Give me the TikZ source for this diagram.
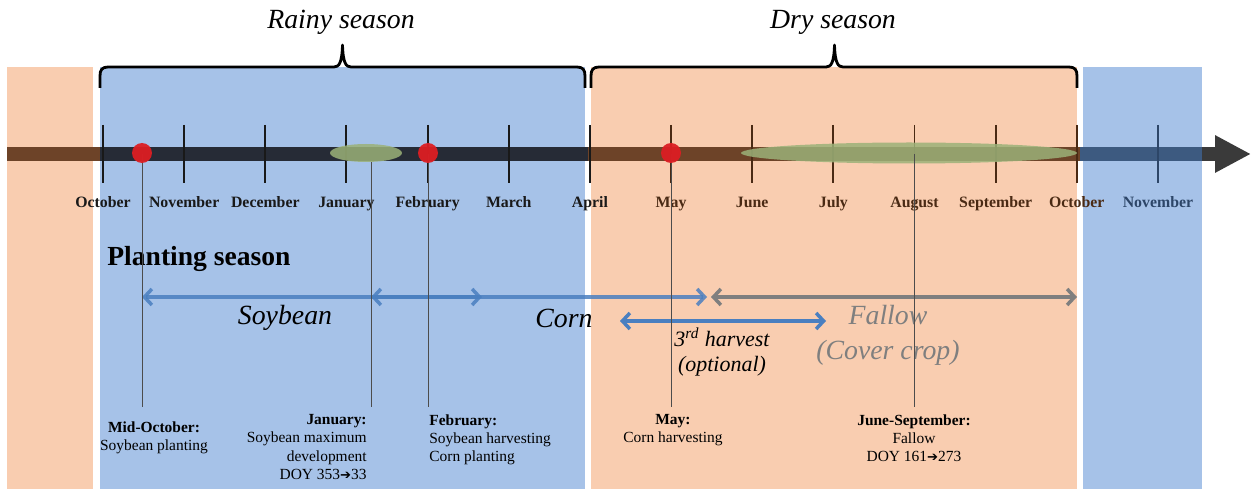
\documentclass[tikz,border=0pt]{standalone}
\usepackage{fontspec}
\setmainfont{Liberation Serif}
\newfontfamily\arrowfont{DejaVu Sans}
\usepackage{tikz}
\usetikzlibrary{arrows.meta, positioning, shapes.geometric}
\usepackage{xcolor}
\definecolor{rainblue}{HTML}{A6C2E8}
\definecolor{dryorange}{HTML}{F9CDB0}
\definecolor{barbrown}{HTML}{6D4328}
\definecolor{bardark}{HTML}{262B36}
\definecolor{barblue}{HTML}{3D5A80}
\definecolor{bargray}{HTML}{3A3A3A}
\definecolor{monthbrown}{HTML}{4A2A14}
\definecolor{monthblue}{HTML}{2D4668}
\definecolor{arrowblue}{HTML}{4A7FC0}
\definecolor{arrowgray}{HTML}{7F7F7F}
\definecolor{dotred}{HTML}{DC1E23}
\definecolor{peakgreen}{HTML}{9BB178}

\begin{document}
\begin{tikzpicture}[>={Straight Barb[length=0.15cm, width=0.32cm]}, x=0.02cm, y=-0.02cm]
    % Define styles for labels, bar, marks and arrows
    \tikzstyle{seasonlbl} = [font=\fontsize{15.8}{19}\selectfont\itshape, inner sep=0]
    \tikzstyle{seasonbrace} = [draw=black, line width=1.6pt, line join=round]
    \tikzstyle{timebar} = [line width=0.28cm]
    \tikzstyle{tickmark} = [line width=1.1pt]
    \tikzstyle{monthlbl} = [font=\fontsize{9}{11}\selectfont\bfseries, inner sep=0, anchor=base]
    \tikzstyle{reddot} = [circle, fill=dotred, fill opacity=0.95, minimum size=0.4cm, inner sep=0]
    \tikzstyle{greenpeak} = [ellipse, fill=peakgreen, fill opacity=0.85, inner sep=0]
    \tikzstyle{guide} = [draw=black!70, line width=0.55pt]
    \tikzstyle{croparrow} = [<->, line width=2pt]
    \tikzstyle{croplbl} = [font=\fontsize{15.8}{19.9}\selectfont\itshape, inner sep=0, align=center]
    \tikzstyle{harvlbl} = [font=\fontsize{12.5}{14.2}\selectfont\itshape, inner sep=0, align=center]
    \tikzstyle{notebox} = [font=\fontsize{8.8}{10.5}\selectfont, inner sep=0, align=center]

    \useasboundingbox (0,0) rectangle (1252,489);

    % Season backgrounds
    \fill[dryorange] (7,67) rectangle (93,489);
    \fill[rainblue] (100,67) rectangle (585,489);
    \fill[dryorange] (591,67) rectangle (1077,489);
    \fill[rainblue] (1083,67) rectangle (1202,489);

    % Season braces and titles
    \draw[seasonbrace] (100,88) -- (100,76) .. controls (100,70) and (102,67) .. (108,67) -- (334,67)
        .. controls (339,67) and (342,63) .. (342.5,45) .. controls (343,63) and (346,67) .. (351,67)
        -- (577,67) .. controls (583,67) and (585,70) .. (585,76) -- (585,88);
    \draw[seasonbrace] (591,88) -- (591,76) .. controls (591,70) and (593,67) .. (599,67) -- (826,67)
        .. controls (831,67) and (834,63) .. (834.5,45) .. controls (835,63) and (838,67) .. (843,67)
        -- (1069,67) .. controls (1075,67) and (1077,70) .. (1077,76) -- (1077,88);
    \node[seasonlbl] (rainyLbl) at (341,22) {Rainy season};
    \node[seasonlbl] (dryLbl) at (833,22) {Dry season};

    % Time bar
    \coordinate (barstart) at (7,154);
    \coordinate (rainstart) at (100,154);
    \coordinate (drystart) at (588,154);
    \coordinate (nextrain) at (1080,154);
    \coordinate (barend) at (1202,154);
    \coordinate (bartip) at (1251,154);
    \draw[timebar, draw=barbrown] (barstart) -- (rainstart);
    \draw[timebar, draw=bardark] (rainstart) -- (drystart);
    \draw[timebar, draw=barbrown] (drystart) -- (nextrain);
    \draw[timebar, draw=barblue] (nextrain) -- (barend);
    \draw[timebar, draw=bargray, -{Triangle[length=0.72cm, width=0.7cm]}] (barend) -- (bartip);

    % Month ticks and names
    \foreach \m [count=\i from 0] in {October,November,December,January,February,March,April,May,June,July,August,September,October,November} {
        \pgfmathsetmacro{\xx}{103+81.15*\i}
        \ifnum\i<7 \def\mc{black!90}\else\ifnum\i<13 \def\mc{monthbrown}\else\def\mc{monthblue}\fi\fi
        \draw[tickmark, draw=\mc] (\xx,125) -- (\xx,183);
        \node[monthlbl, text=\mc] (month\i) at (\xx,208) {\m};
    }

    % Crop periods
    \coordinate (soyL) at (142,297);
    \coordinate (soyR) at (482,297);
    \coordinate (cornL) at (371,297);
    \coordinate (cornR) at (707,297);
    \coordinate (fallL) at (711,297);
    \coordinate (fallR) at (1077,297);
    \coordinate (thirdL) at (620,321);
    \coordinate (thirdR) at (826,321);
    \draw[croparrow, draw=arrowblue, draw opacity=0.85] (soyL) -- (soyR);
    \draw[croparrow, draw=arrowblue, draw opacity=0.85] (cornL) -- (cornR);
    \draw[croparrow, draw=arrowgray] (fallL) -- (fallR);
    \draw[croparrow, draw=arrowblue] (thirdL) -- (thirdR);

    \node[font=\fontsize{15.7}{19}\selectfont\bfseries, inner sep=0, anchor=west] (plantTitle) at (107,259) {Planting season};
    \node[croplbl] (soyLbl) at (285,318) {Soybean};
    \node[croplbl] (cornLbl) at (564,318) {Corn};
    \node[croplbl, text=arrowgray] (fallowLbl) at (888,335) {Fallow\\(Cover crop)};
    \node[harvlbl] (thirdLbl) at (722,352) {3\textsuperscript{rd} harvest\\(optional)};

    % Key dates on the bar
    \node[greenpeak, minimum width=1.44cm, minimum height=0.36cm] (soyPeak) at (366,153) {};
    \node[greenpeak, minimum width=6.72cm, minimum height=0.42cm] (fallowPeak) at (909,153) {};

    \coordinate (soyPlantEnd) at (142,407);
    \coordinate (soyPeakEnd) at (371,407);
    \coordinate (febEnd) at (428,407);
    \coordinate (mayEnd) at (671,407);
    \coordinate (augEnd) at (914,407);
    \draw[guide] (soyPlantEnd |- barstart) -- (soyPlantEnd);
    \draw[guide] (soyPeakEnd |- soyPeak.south) -- (soyPeakEnd);
    \draw[guide] (febEnd |- barstart) -- (febEnd);
    \draw[guide] (mayEnd |- barstart) -- (mayEnd);
    \draw[guide] (augEnd |- barstart) -- (augEnd);

    \node[reddot] (plantSoy) at (142,153) {};
    \node[reddot] (plantCorn) at (428,153) {};
    \node[reddot] (harvCorn) at (671,153) {};

    % Notes under the guides
    \node[notebox, below=0.28cm of soyPlantEnd, xshift=0.24cm] (noteOct) {\textbf{Mid-October:}\\Soybean planting};
    \node[notebox, anchor=north east, align=right] (noteJan) at (367,414) {\textbf{January:}\\Soybean maximum\\development\\DOY 353{\arrowfont\scalebox{0.85}{➔}}33};
    \node[notebox, anchor=north west, align=left] (noteFeb) at (429,414) {\textbf{February:}\\Soybean harvesting\\Corn planting};
    \node[notebox, below=0.14cm of mayEnd, xshift=0.04cm] (noteMay) {\textbf{May:}\\Corn harvesting};
    \node[notebox, below=0.14cm of augEnd] (noteSep) {\textbf{June-September:}\\Fallow\\DOY 161{\arrowfont\scalebox{0.85}{➔}}273};
\end{tikzpicture}
\end{document}
